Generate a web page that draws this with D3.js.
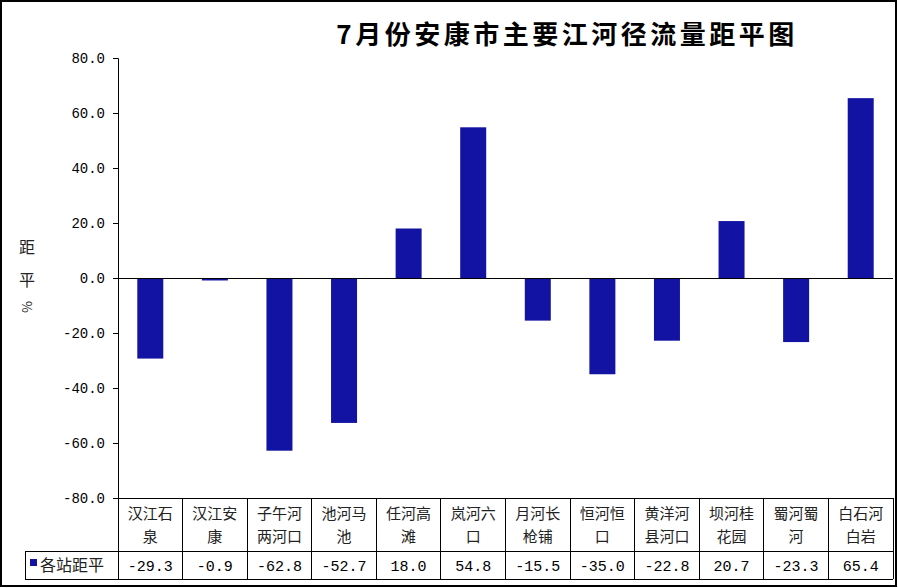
<!DOCTYPE html>
<html><head><meta charset="utf-8">
<script src="https://cdn.jsdelivr.net/npm/d3@7"></script>
<style>body{margin:0;background:#fff}svg{display:block}</style>
</head><body>
<script>
const categories = [["汉江石","泉"],["汉江安","康"],["子午河","两河口"],["池河马","池"],["任河高","滩"],["岚河六","口"],["月河长","枪铺"],["恒河恒","口"],["黄洋河","县河口"],["坝河桂","花园"],["蜀河蜀","河"],["白石河","白岩"]];
const values = [-29.3,-0.9,-62.8,-52.7,18.0,54.8,-15.5,-35.0,-22.8,20.7,-23.3,65.4];
const yTicks = [-80,-60,-40,-20,0,20,40,60,80];
const seriesName = "各站距平";
const title = "7月份安康市主要江河径流量距平图";

(function(){
const W=898,H=588;
const pL=118,pR=893,pT=58,pB=498;
const cjk='"Noto Sans CJK SC", sans-serif';
const mono='"Liberation Mono", monospace';
const barColor='#1313A3';

const svg=d3.select('body').append('svg').attr('width',W).attr('height',H);
svg.append('rect').attr('x',1).attr('y',1).attr('width',W-3).attr('height',H-3)
  .attr('fill','#fff').attr('stroke','#000').attr('stroke-width',2);

const x=d3.scaleBand().domain(d3.range(categories.length)).range([pL,pR]).paddingInner(0).paddingOuter(0);
const y=d3.scaleLinear().domain([-80,80]).range([pB,pT]);

// title
svg.append('text').attr('x',567).attr('y',44).attr('text-anchor','middle')
  .attr('font-family',cjk).attr('font-weight','bold').attr('font-size',26)
  .attr('letter-spacing',3.5).attr('fill','#000').text(title);

// y axis
const yAxis=d3.axisLeft(y).tickValues(yTicks).tickSize(5).tickPadding(8).tickFormat(d3.format('.1f'));
const gy=svg.append('g').attr('transform',`translate(${pL},0)`).call(yAxis);
gy.select('.domain').attr('stroke','#000').attr('d',`M-5,${pT+0.5}H0.5V${pB}`);
gy.selectAll('.tick line').attr('stroke','#000');
gy.selectAll('.tick text').attr('font-family',mono).attr('font-size',14).attr('fill','#000')
  .text(d=>d3.format('.1f')(d).replace('−','-'));

// y label
const ylab=svg.append('g').attr('font-family',cjk).attr('font-size',16).attr('fill','#222');
ylab.append('text').attr('x',27).attr('y',253).attr('text-anchor','middle').text('距');
ylab.append('text').attr('x',27).attr('y',286).attr('text-anchor','middle').text('平');
ylab.append('text').attr('transform','translate(22,307) rotate(90)').attr('text-anchor','middle').attr('font-size',13).text('%');

// bars
const bw=26;
svg.append('g').selectAll('rect').data(values).join('rect')
  .attr('x',(d,i)=>x(i)+x.bandwidth()/2-bw/2)
  .attr('y',d=>y(Math.max(0,d)))
  .attr('width',bw)
  .attr('height',d=>Math.abs(y(d)-y(0)))
  .attr('fill',barColor);

// zero line
svg.append('line').attr('x1',pL).attr('x2',pR).attr('y1',y(0)+0.5).attr('y2',y(0)+0.5).attr('stroke','#000');

// table
const row1=pB, row2=551, row3=579, legL=25;
const tg=svg.append('g').attr('stroke','#000').attr('stroke-width',1).attr('shape-rendering','crispEdges');
tg.append('line').attr('x1',pL).attr('x2',pR).attr('y1',row1).attr('y2',row1);
tg.append('line').attr('x1',legL).attr('x2',pR).attr('y1',row2).attr('y2',row2);
tg.append('line').attr('x1',legL).attr('x2',pR).attr('y1',row3).attr('y2',row3);
tg.append('line').attr('x1',legL).attr('x2',legL).attr('y1',row2).attr('y2',row3);
const bounds=d3.range(categories.length).map(i=>x(i)).concat([pR]);
tg.selectAll('.vl').data(bounds).join('line').attr('class','vl')
  .attr('x1',d=>d).attr('x2',d=>d).attr('y1',row1).attr('y2',row3);

// category labels
const cg=svg.append('g').attr('font-family',cjk).attr('font-size',15).attr('fill','#222').attr('text-anchor','middle');
categories.forEach((c,i)=>{
  const cx=x(i)+x.bandwidth()/2;
  cg.append('text').attr('x',cx).attr('y',519).text(c[0]);
  cg.append('text').attr('x',cx).attr('y',541.5).text(c[1]);
});

// values row
svg.append('g').attr('font-family',mono).attr('font-size',15).attr('fill','#000').attr('text-anchor','middle')
  .selectAll('text').data(values).join('text')
  .attr('x',(d,i)=>x(i)+x.bandwidth()/2).attr('y',571)
  .text(d=>d3.format('.1f')(d).replace('−','-'));

// legend
svg.append('rect').attr('x',30).attr('y',559).attr('width',7).attr('height',7).attr('fill',barColor);
svg.append('text').attr('x',40).attr('y',571).attr('font-family',cjk).attr('font-size',16).attr('fill','#222').text(seriesName);
})();
</script>
</body></html>
